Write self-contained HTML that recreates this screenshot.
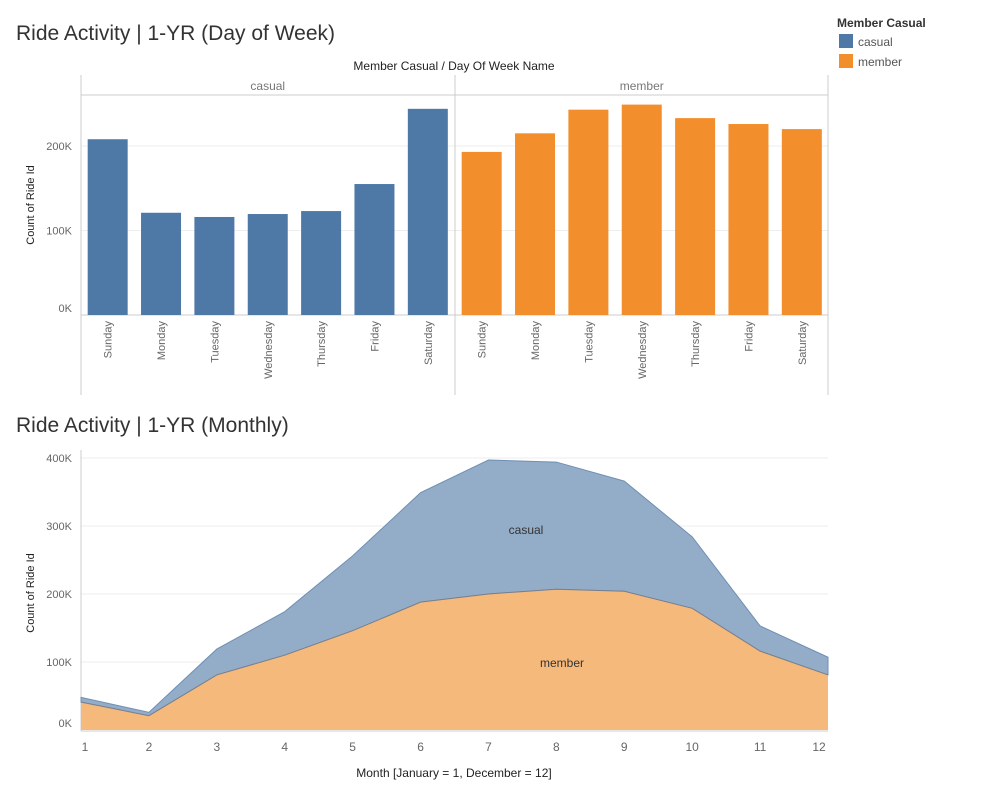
<!DOCTYPE html>
<html><head><meta charset="utf-8"><style>
body{margin:0;background:#fff;font-family:"Liberation Sans",sans-serif;}
svg text{font-family:"Liberation Sans",sans-serif;}
</style></head><body>
<svg id="c" width="999" height="799" xmlns="http://www.w3.org/2000/svg">
<text x="16" y="40" font-size="21" fill="#333">Ride Activity | 1-YR (Day of Week)</text>
<text x="16" y="432" font-size="21" fill="#333">Ride Activity | 1-YR (Monthly)</text>
<g>
<text x="837" y="27" font-size="12" font-weight="bold" fill="#333">Member Casual</text>
<rect x="839" y="34" width="14" height="14" fill="#4e79a7"/>
<text x="858" y="46" font-size="12" fill="#555">casual</text>
<rect x="839" y="54" width="14" height="14" fill="#f28e2b"/>
<text x="858" y="66" font-size="12" fill="#555">member</text>
</g>
<text x="454" y="70" font-size="12" text-anchor="middle" fill="#222">Member Casual  /  Day Of Week Name</text>
<text x="34" y="205" font-size="11" fill="#222" text-anchor="middle" transform="rotate(-90 34 205)">Count of Ride Id</text>
<text x="34" y="593" font-size="11" fill="#222" text-anchor="middle" transform="rotate(-90 34 593)">Count of Ride Id</text>
<text x="454" y="777" font-size="12" fill="#222" text-anchor="middle">Month [January = 1, December = 12]</text>
<g id="topg"></g><g id="botg"></g>
</svg>
<script>
const days=["Sunday","Monday","Tuesday","Wednesday","Thursday","Friday","Saturday"];
const casualDay=[208,121,116,119.5,123,155,244];
const memberDay=[193,215,243,249,233,226,220];
const topTicks=[0,100,200];
const months=[1,2,3,4,5,6,7,8,9,10,11,12];
const memberMonth=[41,21,81,110,146,188,200,207,204,179,116,81];
const casualMonth=[7,5,38,64,110,161,197,187,162,105,37,26];
const botTicks=[0,100,200,300,400];
const NS="http://www.w3.org/2000/svg";
function mk(p,t,a){const e=document.createElementNS(NS,t);for(const k in a)e.setAttribute(k,a[k]);p.appendChild(e);return e;}
const gTop=document.getElementById('topg'),gBot=document.getElementById('botg');
const yT=v=>315-v*0.845;
const panelX=[81,455],panelW=373.5,slot=panelW/7;
topTicks.forEach(t=>{
 if(t>0){const g=mk(gTop,'line',{x1:81,x2:828,y1:yT(t),y2:yT(t),stroke:'#eee'});
 
 }
 const l=mk(gTop,'text',{x:72,y:t==0?312:yT(t)+4,'font-size':11,fill:'#666','text-anchor':'end'});
 l.textContent=t+'K';
 
 
});
mk(gTop,'line',{x1:81,x2:81,y1:75,y2:395,stroke:'#ccc'});
mk(gTop,'line',{x1:455,x2:455,y1:75,y2:395,stroke:'#ccc'});
mk(gTop,'line',{x1:828,x2:828,y1:75,y2:395,stroke:'#ccc'});
mk(gTop,'line',{x1:81,x2:828,y1:95,y2:95,stroke:'#ccc'});
mk(gTop,'line',{x1:81,x2:828,y1:315,y2:315,stroke:'#ccc'});
[["casual",0],["member",1]].forEach(([n,i])=>{
 const t=mk(gTop,'text',{x:panelX[i]+panelW/2,y:90,'font-size':12,fill:'#777','text-anchor':'middle'});
 t.textContent=n;
 
 
 const vals=i?memberDay:casualDay;
 vals.forEach((v,j)=>{
  const cx=panelX[i]+slot*(j+0.5);
  const r=mk(gTop,'rect',{x:cx-20,y:yT(v),width:40,height:315-yT(v),fill:i?'#f28e2b':'#4e79a7'});
  
  
  const l=mk(gTop,'text',{x:0,y:0,'font-size':11,fill:'#666','text-anchor':'end',transform:`translate(${cx+4},321) rotate(-90)`});
  l.textContent=days[j];
  
  
 });
});
const xB=m=>81+(m-1)*(747/11);
const yB=v=>730-v*0.68;
botTicks.forEach(t=>{
 if(t>0){const g=mk(gBot,'line',{x1:81,x2:828,y1:yB(t),y2:yB(t),stroke:'#eee'});
 
 }
 const l=mk(gBot,'text',{x:72,y:t==0?727:yB(t)+4,'font-size':11,fill:'#666','text-anchor':'end'});
 l.textContent=t+'K';
 
 
});
mk(gBot,'line',{x1:81,x2:81,y1:450,y2:731,stroke:'#ccc'});
mk(gBot,'line',{x1:81,x2:828,y1:731,y2:731,stroke:'#ccc'});
const tot=months.map((m,i)=>memberMonth[i]+casualMonth[i]);
let pC='M'+months.map((m,i)=>xB(m)+','+yB(tot[i])).join('L')+'L'+months.slice().reverse().map((m)=>xB(m)+','+yB(memberMonth[m-1])).join('L')+'Z';
const ac=mk(gBot,'path',{d:pC,fill:'#93adc9',stroke:'#6f8fb3','stroke-width':1});


let pM='M'+xB(1)+',730L'+months.map((m,i)=>xB(m)+','+yB(memberMonth[i])).join('L')+'L'+xB(12)+',730Z';
const am=mk(gBot,'path',{d:pM,fill:'#f5b97c',stroke:'none'});


mk(gBot,'polyline',{points:months.map((m,i)=>xB(m)+','+yB(memberMonth[i])).join(' '),fill:'none',stroke:'#7a7f8a','stroke-width':1});
const lc=mk(gBot,'text',{x:526,y:534,'font-size':12,fill:'#333','text-anchor':'middle'});lc.textContent='casual';


const lm=mk(gBot,'text',{x:562,y:667,'font-size':12,fill:'#333','text-anchor':'middle'});lm.textContent='member';


months.forEach(m=>{
 const x=m==1?85:m==12?819:xB(m);
 const l=mk(gBot,'text',{x:x,y:751,'font-size':12,fill:'#666','text-anchor':'middle'});
 l.textContent=m;
 
 
});
</script>
</body></html>
